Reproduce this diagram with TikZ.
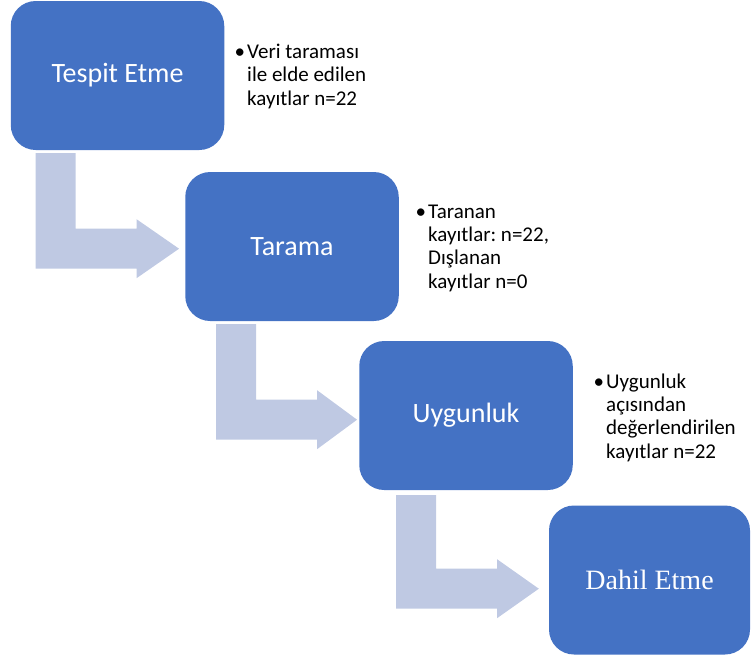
\documentclass[tikz,border=0pt]{standalone}
\usepackage{fontspec}
\setmainfont{Carlito}
\newfontfamily\serifx{Liberation Serif}
\usetikzlibrary{calc}
\definecolor{boxblue}{RGB}{68,114,196}
\definecolor{arrowblue}{RGB}{191,201,227}
\tikzset{
  stage/.style={fill=boxblue, rounded corners=25pt, minimum width=213.5pt,
    minimum height=149pt, text=white, inner sep=0pt,
    font=\fontsize{28}{34}\selectfont},
  note/.style={anchor=base west, align=left, inner sep=0pt,
    font=\fontsize{21}{23.3}\selectfont\frenchspacing},
  bent/.style={fill=arrowblue}
}
% #1 upper box, #2 lower box, #3 bar offset from #1's left side,
% #4 gap of tip before #2's left side, #5 gap below #1
\newcommand\bentarrow[5]{%
  \path[bent] let \p1=(#1.south west), \p2=(#2.west) in
    (\x1+#3,\y1-#5) -- (\x1+#3+40pt,\y1-#5) -- (\x1+#3+40pt,\y1-78.5pt)
    -- (\x1+#3+101pt,\y1-78.5pt) -- (\x1+#3+101pt,\y1-69pt) -- (\x2-#4,\y1-98.5pt)
    -- (\x1+#3+101pt,\y1-128pt) -- (\x1+#3+101pt,\y1-118.5pt) -- (\x1+#3,\y1-118.5pt) -- cycle;}
\begin{document}
\begin{tikzpicture}[x=1pt,y=-1pt]
\useasboundingbox (0,0) rectangle (752,659);
\node[stage] (b1) at (117.5,75.5) {Tespit Etme};
\node[stage] (b2) at (292,246.5) {Tarama};
\node[stage] (b3) at (466,415.5) {Uygunluk};
\node[stage, minimum width=201pt, font=\serifx\fontsize{28}{33}\selectfont] (b4) at (649.5,580) {Dahil Etme};
\bentarrow{b1}{b2}{25pt}{6pt}{3pt}
\bentarrow{b2}{b3}{31pt}{2pt}{3pt}
\bentarrow{b3}{b4}{37pt}{10pt}{5pt}
\node[note] (n1) at (247,105) {\llap{•\hspace{2pt}}Veri taraması\\ile elde edilen\\kayıtlar n=22};
\node[note] (n2) at (428,288) {\llap{•\hspace{2pt}}Taranan\\kayıtlar: n=22,\\Dışlanan\\kayıtlar n=0};
\node[note] (n3) at (606,458) {\llap{•\hspace{2pt}}Uygunluk\\açısından\\değerlendirilen\\kayıtlar n=22};
\end{tikzpicture}
\end{document}
